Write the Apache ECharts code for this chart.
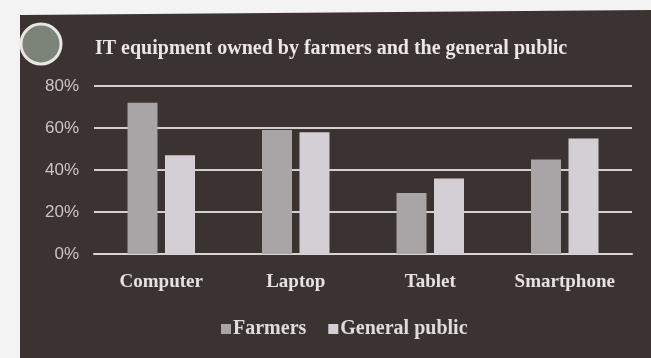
<!DOCTYPE html>
<html><head><meta charset="utf-8">
<script src="https://cdn.jsdelivr.net/npm/echarts@6/dist/echarts.min.js"></script>
<style>html,body{margin:0;padding:0;background:#f4f3f4;}#c{width:651px;height:358px;}</style>
</head><body><div id="c"></div>
<script>
var categories = ['Computer', 'Laptop', 'Tablet', 'Smartphone'];
var farmers = [72, 59, 29, 45];
var generalPublic = [47, 58, 36, 55];
var yTicks = [0, 20, 40, 60, 80];
var seriesNames = ['Farmers', 'General public'];

var chart = echarts.init(document.getElementById('c'), null, {renderer: 'canvas'});
var serif = '"Liberation Serif", "DejaVu Serif", serif';
chart.setOption({
  backgroundColor: '#f4f3f4',
  animation: false,
  graphic: [
    {type: 'polygon', z: -10, shape: {points: [[20, 15], [651, 10], [651, 358], [20, 358]]}, style: {fill: '#3b3331'}},
    {type: 'circle', z: -5, shape: {cx: 41, cy: 44, r: 20}, style: {fill: '#7c8378', stroke: '#e9e6e4', lineWidth: 3}},
    {type: 'text', left: 95, top: 39, style: {text: 'IT equipment owned by farmers and the general public', fill: '#ebe7e8', font: 'bold 20px ' + serif}}
  ],
  legend: {
    data: seriesNames,
    left: 216, top: 314,
    icon: 'rect', itemWidth: 10, itemHeight: 10, itemGap: 22,
    textStyle: {color: '#e0dcdd', fontFamily: serif, fontWeight: 'bold', fontSize: 20, padding: [0, 0, 0, -3]}
  },
  grid: {left: 94, right: 19, top: 86, bottom: 104},
  xAxis: {
    type: 'category', data: categories,
    axisLine: {show: true, lineStyle: {color: '#d8d4d4', width: 2}},
    axisTick: {show: false},
    axisLabel: {color: '#e6e2e3', fontFamily: serif, fontWeight: 'bold', fontSize: 19, margin: 19}
  },
  yAxis: {
    type: 'value', min: 0, max: 80, interval: 20,
    axisLine: {show: false}, axisTick: {show: false},
    axisLabel: {color: '#c9c4c5', fontFamily: '"Liberation Sans", Arial, sans-serif', fontSize: 17, margin: 15,
      formatter: function (v) { return yTicks.indexOf(v) >= 0 ? v + '%' : ''; }},
    splitLine: {lineStyle: {color: '#d4d0d0', width: 2}}
  },
  series: [
    {name: seriesNames[0], type: 'bar', data: farmers, barWidth: 30, barGap: '25%', itemStyle: {color: '#a9a4a6'}},
    {name: seriesNames[1], type: 'bar', data: generalPublic, barWidth: 30, itemStyle: {color: '#d3cfd4'}}
  ]
});
</script></body></html>
